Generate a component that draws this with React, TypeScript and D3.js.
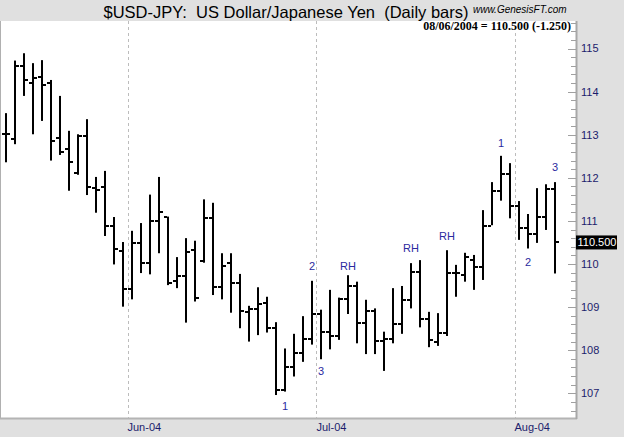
import React from "react";
import * as d3 from "d3";

const opens = [113.01,112.90,114.60,114.21,114.35,114.21,112.93,112.67,112.12,112.97,
  111.77,111.78,110.89,110.31,109.41,110.48,110.03,111.00,111.10,109.61,
  109.72,110.32,110.07,111.06,109.46,110.02,109.55,108.89,108.95,109.09,
  108.51,107.08,107.62,107.94,108.25,108.83,108.42,108.33,109.18,109.49,
  108.64,108.91,108.22,108.25,108.60,109.16,109.82,108.72,108.20,108.41,
  109.78,109.74,110.09,109.94,110.88,111.70,112.08,111.35,110.84,110.69,
  111.08,111.75];
const highs = [113.50,114.72,114.89,114.66,114.73,114.27,113.90,113.09,113.01,113.36,
  112.02,112.16,111.09,110.51,110.77,110.95,111.61,112.02,111.10,110.16,
  110.60,110.54,111.50,111.42,110.25,110.25,109.77,109.03,109.46,109.24,
  108.65,108.04,108.38,108.79,109.61,108.94,109.40,109.22,109.74,109.59,
  109.17,108.97,108.43,109.44,109.49,110.02,110.09,108.89,108.86,110.32,
  109.98,110.26,110.21,111.25,111.90,112.51,112.34,111.46,111.16,111.76,
  111.85,111.90];
const lows = [112.36,112.78,113.90,113.01,113.32,112.40,112.53,111.70,112.07,111.60,
  111.19,110.65,109.99,109.01,109.18,109.79,109.76,110.25,109.51,109.44,
  108.64,109.13,110.03,109.28,109.18,108.87,108.51,108.20,108.35,108.41,
  106.96,107.04,107.39,107.73,108.13,107.79,108.02,108.24,108.84,108.16,
  107.91,107.91,107.52,108.16,108.38,108.97,108.53,108.07,108.10,108.33,
  109.24,109.59,109.40,109.63,110.90,111.47,111.06,110.56,110.36,110.49,
  110.79,109.78];
const closes = [113.01,114.60,114.27,114.32,114.15,112.85,112.61,112.37,112.97,111.79,
  111.72,110.89,110.34,109.41,110.48,110.03,111.00,111.21,109.57,109.72,
  110.29,109.22,111.06,109.46,109.95,109.55,108.91,108.95,109.07,108.51,
  107.08,107.60,107.94,108.25,108.83,108.42,108.33,109.18,109.49,108.64,
  108.91,108.21,108.25,108.60,109.16,109.82,108.72,108.24,108.41,109.78,
  109.78,110.17,109.94,110.88,111.70,112.08,111.35,110.84,110.69,111.08,
  111.75,110.50];

const monthLabels = ["Jun-04", "Jul-04", "Aug-04"];
const monthStartIdx = [15, 36, 58];

const yTickValues = [107, 108, 109, 110, 111, 112, 113, 114, 115];

const annLabels = ["1", "3", "2", "RH", "RH", "RH", "1", "2", "3"];
const annIdx = [32, 36, 35, 39, 46, 50, 56, 59, 62];
const annValue = [106.71, 107.52, 109.95, 109.95, 110.36, 110.66, 112.80, 110.05, 112.24];

const lastLabel = "110.500";
const lastValue = 110.5;
const titleText = "$USD-JPY:  US Dollar/Japanese Yen  (Daily bars)";
const headerText = "08/06/2004 = 110.500 (-1.250)";
const siteText = "www.GenesisFT.com";

export default function App() {
  const W = 624, H = 437;
  const left = 0, right = 576, top = 21, bottom = 418;
  const x = d3.scaleLinear().domain([1, 62]).range([6, 555]);
  const y = d3.scaleLinear().domain([107, 115]).range([393.3, 48.5]);
  const minor = d3.range(106.6, 115.61, 0.2).filter((v) => y(v) > top && y(v) < bottom);
  const navy = "#1c1c6c";
  const blue = "#2a2aa0";
  const sans = "'Liberation Sans', Arial, sans-serif";

  return (
    <svg width={W} height={H} style={{ position: "absolute", left: 0, top: 0 }}>
      <rect x={0} y={0} width={W} height={H} fill="#e0e0e0" />
      <rect x={left} y={top} width={right - left} height={bottom - top} fill="#ffffff" />
      <line x1={0.5} x2={0.5} y1={top} y2={bottom} stroke="#b0b0b0" />
      <line x1={left} x2={right + 1} y1={bottom + 0.5} y2={bottom + 0.5} stroke="#b4b4b4" strokeWidth={2} />
      <line x1={right + 0.5} x2={right + 0.5} y1={top} y2={bottom + 1} stroke="#a8a8a8" strokeWidth={2} />

      {monthStartIdx.map((m, i) => (
        <g key={i}>
          <line x1={Math.round(x(m - 0.5)) + 0.5} x2={Math.round(x(m - 0.5)) + 0.5} y1={top} y2={bottom}
            stroke="#bcbcbc" strokeDasharray="3,3" />
          <text x={x(m - 0.5)} y={431} fontFamily={sans} fontSize={11} fill={navy}>{monthLabels[i]}</text>
        </g>
      ))}

      {minor.map((v, i) => (
        <line key={"m" + i} x1={571} x2={right} y1={Math.round(y(v)) + 0.5} y2={Math.round(y(v)) + 0.5} stroke="#a0a0a0" />
      ))}
      {yTickValues.map((v) => (
        <g key={v}>
          <line x1={568} x2={right} y1={Math.round(y(v)) + 0.5} y2={Math.round(y(v)) + 0.5} stroke="#a0a0a0" />
          <text x={581} y={y(v)} dy="0.36em" fontFamily={sans} fontSize={11} fill={navy}>{v}</text>
        </g>
      ))}

      {opens.map((o, i) => {
        const cx = Math.round(x(i + 1));
        return (
          <g key={"b" + i} fill="#000">
            <rect x={cx - 1} y={y(highs[i])} width={2} height={y(lows[i]) - y(highs[i])} />
            <rect x={cx - 4} y={Math.round(y(o)) - 1} width={3} height={2} />
            <rect x={cx + 1} y={Math.round(y(closes[i])) - 1} width={3} height={2} />
          </g>
        );
      })}

      {annLabels.map((t, i) => (
        <text key={"a" + i} x={x(annIdx[i])} y={y(annValue[i])} dy="0.36em" textAnchor="middle"
          fontFamily={sans} fontSize={11} fill={blue}>{t}</text>
      ))}

      <rect x={right} y={y(lastValue) - 7} width={41} height={14} fill="#000" />
      <text x={right + 1.5} y={y(lastValue)} dy="0.36em" fontFamily={sans} fontSize={11} fill="#fff">{lastLabel}</text>

      <text x={103.5} y={18} fontFamily={sans} fontSize={16.5} fill="#000" style={{ whiteSpace: "pre" }}>{titleText}</text>
      <text x={473} y={13} fontFamily={sans} fontSize={10} fontStyle="italic" fill="#000">{siteText}</text>
      <text x={571} y={30} textAnchor="end" fontFamily="'Liberation Serif', 'Times New Roman', serif" fontWeight="bold"
        fontSize={12} fill="#000">{headerText}</text>
    </svg>
  );
}
